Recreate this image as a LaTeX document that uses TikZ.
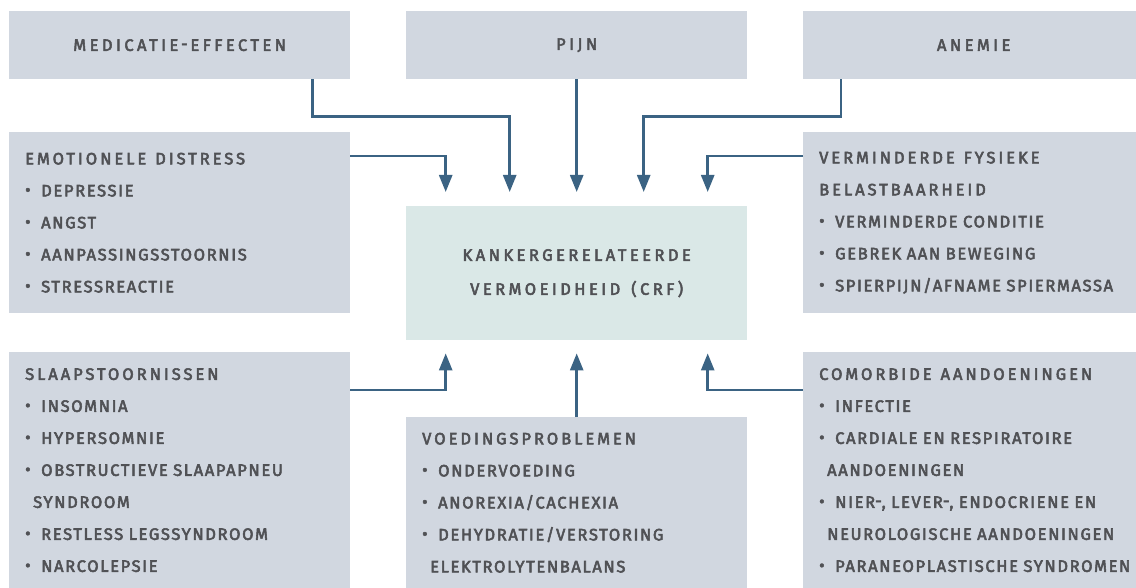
\documentclass[tikz,border=0pt]{standalone}
\usepackage{fontspec}
\setmainfont{Fira Sans}[LetterSpace=10, FakeBold=3.2, WordSpace=1.6]
\newfontfamily\headfont{Fira Sans}[LetterSpace=18, FakeBold=3.2]
\newfontfamily\wideheadfont{Fira Sans}[LetterSpace=21, FakeBold=3.2]
\usetikzlibrary{arrows.meta,positioning}

\definecolor{boxgray}{HTML}{D1D7E0}
\definecolor{crfgreen}{HTML}{DAE8E7}
\definecolor{arrowblue}{HTML}{3B6383}
\definecolor{textgray}{HTML}{505155}

\newcommand{\itm}{\makebox[16pt][l]{\raisebox{0.05em}{\textbullet}}}
\newcommand{\cont}{\hspace*{8pt}}
\newcommand{\hd}[1]{{\headfont\spaceskip=9pt #1}}
\newcommand{\hy}{\raisebox{0.08em}{-}}

\begin{document}
\begin{tikzpicture}[
    x=1pt, y=-1pt,
    factor/.style={fill=boxgray, inner sep=0pt, minimum width=341pt, text=textgray,
      font={\fontsize{16.5}{32}\selectfont}},
    listbox/.style={factor, align=left, text width=309pt, inner xsep=16pt, anchor=north west},
    topbox/.style={factor, minimum height=68pt, anchor=north west,
      font={\fontsize{16.5}{32}\selectfont\wideheadfont}},
    crfbox/.style={fill=crfgreen, inner sep=0pt, minimum width=341pt, minimum height=134pt,
      text=textgray, align=center, font={\fontsize{16.5}{34}\selectfont\wideheadfont}, anchor=north west},
    arrow/.style={-{Triangle[width=13pt,length=17pt]}, line width=2.6pt, draw=arrowblue}
  ]
  \clip (0,0) rectangle (1136,588);
  \useasboundingbox (0,0) rectangle (1136,588);

  % Top row
  \node[topbox] (med) at (9,11) {MEDICATIE\,\hy\,EFFECTEN};
  \node[topbox] (pijn) at (406,11) {PIJN};
  \node[topbox] (anemie) at (803,11) {ANEMIE};

  % Centre
  \node[crfbox] (crf) at (406,206) {KANKERGERELATEERDE\\VERMOEIDHEID\hspace{11pt}(CRF)};

  % Side boxes
  \node[listbox, minimum height=181pt] (emo) at (9,132)
    {\hd{EMOTIONELE DISTRESS}\\\itm DEPRESSIE\\\itm ANGST\\\itm AANPASSINGSSTOORNIS\\\itm STRESSREACTIE};
  \node[listbox, minimum height=181pt] (fys) at (803,132)
    {\hd{VERMINDERDE FYSIEKE}\\\hd{BELASTBAARHEID}\\\itm VERMINDERDE CONDITIE\\\itm GEBREK AAN BEWEGING\\\itm SPIERPIJN/AFNAME SPIERMASSA};
  \node[listbox, minimum height=236pt] (slaap) at (9,352)
    {\hd{SLAAPSTOORNISSEN}\\\itm INSOMNIA\\\itm HYPERSOMNIE\\\itm OBSTRUCTIEVE SLAAPAPNEU\\\cont SYNDROOM\\\itm RESTLESS LEGSSYNDROOM\\\itm NARCOLEPSIE};
  \node[listbox, minimum height=171pt] (voed) at (406,417)
    {\hd{VOEDINGSPROBLEMEN}\\\itm ONDERVOEDING\\\itm ANOREXIA/CACHEXIA\\\itm DEHYDRATIE/VERSTORING\\\cont ELEKTROLYTENBALANS};
  \node[listbox, minimum height=236pt] (como) at (803,352)
    {\hd{COMORBIDE AANDOENINGEN}\\\itm INFECTIE\\\itm CARDIALE EN RESPIRATOIRE\\\cont AANDOENINGEN\\\itm \mbox{NIER\hy, LEVER\hy, ENDOCRIENE EN}\\\cont \mbox{NEUROLOGISCHE AANDOENINGEN}\\\itm \mbox{PARANEOPLASTISCHE SYNDROMEN}};

  % Arrows into CRF
  \draw[arrow] ([xshift=-38pt]med.south east) -- ++(0,37) -| ([xshift=-67pt,yshift=14pt]crf.north);
  \draw[arrow] (pijn.south) -- ([yshift=14pt]crf.north);
  \draw[arrow] ([xshift=38pt]anemie.south west) -- ++(0,37) -| ([xshift=67pt,yshift=14pt]crf.north);
  \draw[arrow] ([yshift=-24pt]emo.north east) -| ([xshift=-131pt,yshift=14pt]crf.north);
  \draw[arrow] ([yshift=-24pt]fys.north west) -| ([xshift=131pt,yshift=14pt]crf.north);
  \draw[arrow] ([yshift=-38pt]slaap.north east) -| ([xshift=-131pt,yshift=-13pt]crf.south);
  \draw[arrow] (voed.north) -- ([yshift=-13pt]crf.south);
  \draw[arrow] ([yshift=-38pt]como.north west) -| ([xshift=131pt,yshift=-13pt]crf.south);
\end{tikzpicture}
\end{document}
